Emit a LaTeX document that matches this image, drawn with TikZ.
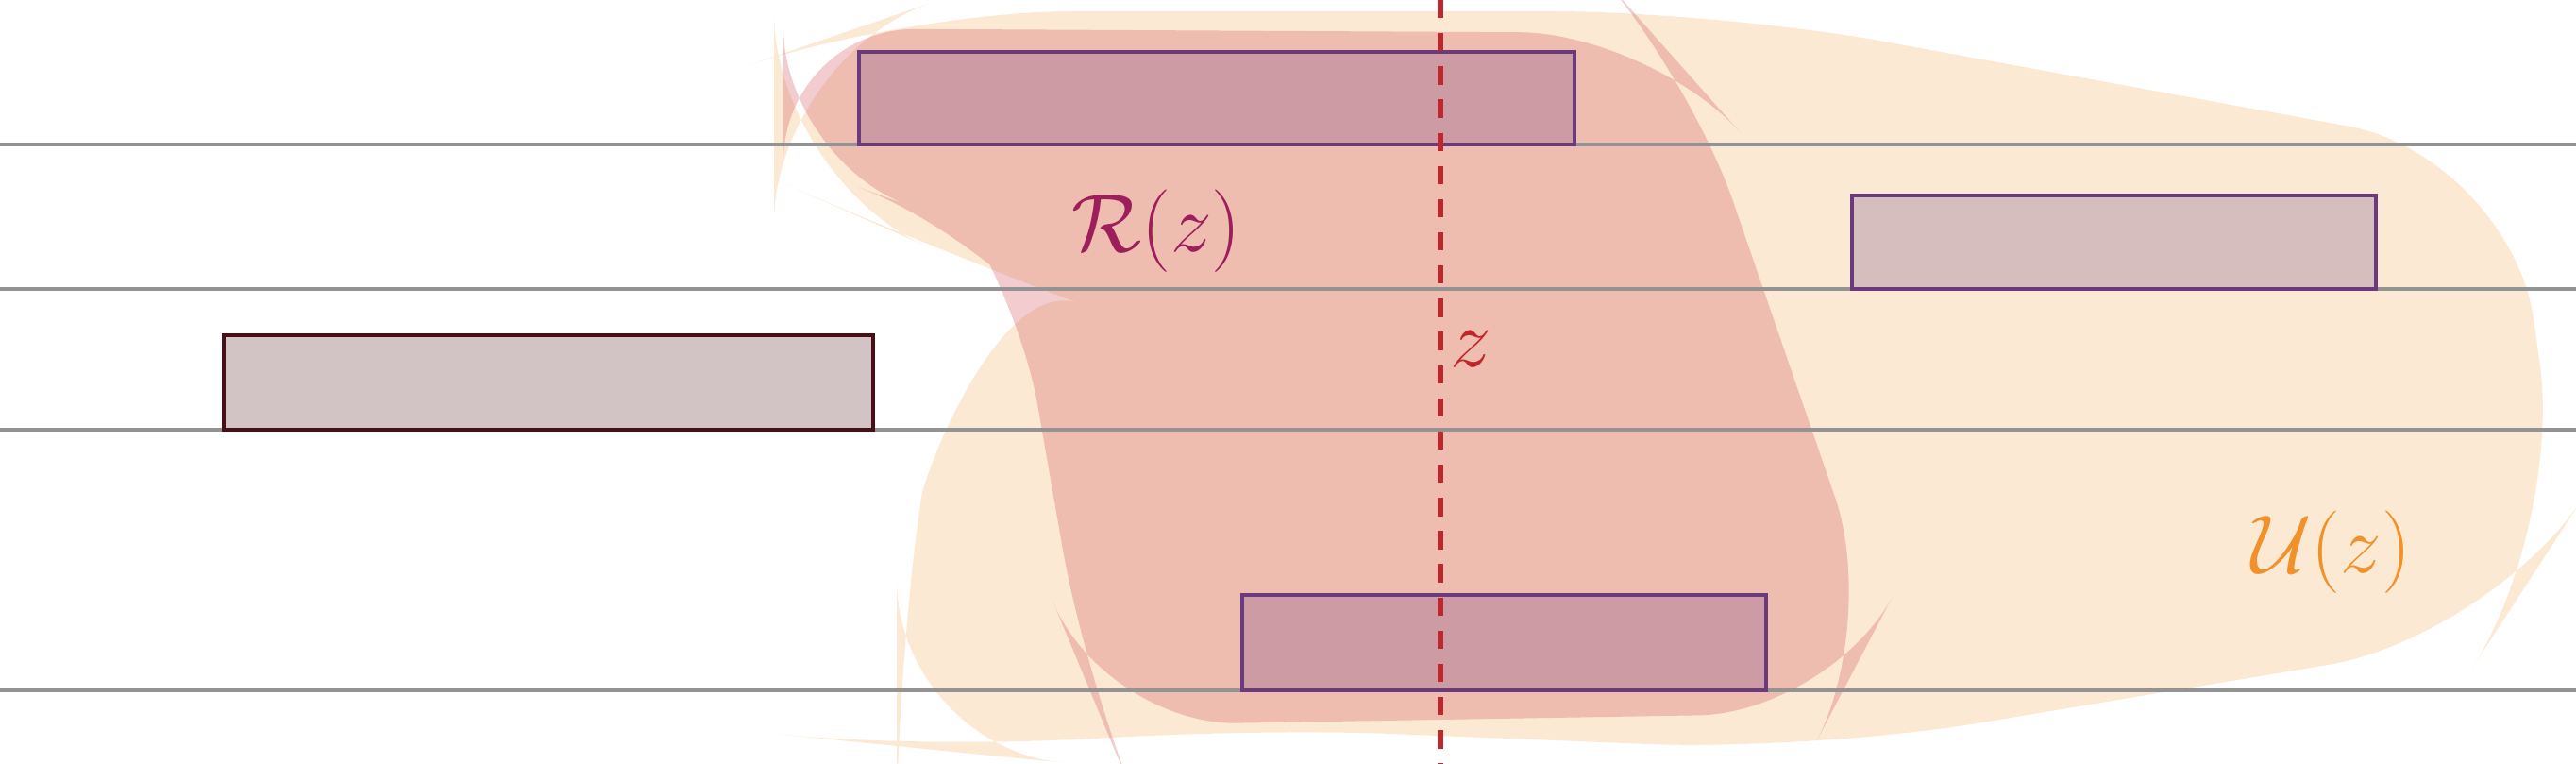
\documentclass[tikz,border=0pt]{standalone}
\usepackage{amsmath}
\definecolor{blobU}{HTML}{FBE9D4}
\definecolor{blobR}{HTML}{D4555F}
\definecolor{boxline}{HTML}{6B3A7D}
\definecolor{boxdark}{HTML}{4A0E14}
\definecolor{labR}{HTML}{9C1E5A}
\definecolor{labU}{HTML}{F0912A}
\definecolor{zred}{HTML}{C0272D}
\tikzset{
  level/.style={draw=gray!85, line width=0.9pt},
  bar/.style={draw=boxline, line width=1pt, fill=boxline, fill opacity=0.25},
}
\begin{document}
\begin{tikzpicture}[yscale=-1]
        \useasboundingbox (0,0) rectangle (27.29,8.09);
        % --- Region U(z) ---
        \fill[blobU, rounded corners=50pt]
            (9.6,0.12) -- (18.2,0.12) -- (26.6,1.65) -- (27.15,5.6) -- (26.4,6.75)
            -- (19.2,7.95) -- (13.0,7.7) -- (10.0,7.95) -- (9.5,7.9) -- (9.5,7.0)
            .. controls (9.8,5.0) and (10.6,2.9) .. (9.8,2.6) -- (8.2,1.9) -- (8.2,0.6) -- cycle;
        % --- Region R(z) ---
        \fill[blobR, fill opacity=0.3, rounded corners=40pt]
            (8.3,0.3) -- (17.5,0.35) -- (17.9,0.8) -- (19.9,6.6) -- (19.4,7.55)
            -- (11.7,7.68) -- (11.5,7.2) -- (10.75,2.9) -- (10.4,2.45) -- (8.3,1.7) -- cycle;
        % --- Lineas horizontales ---
        \foreach \y in {1.53,3.06,4.55,7.31}
            \draw[level] (0,\y) -- (27.29,\y);
        % --- Barras ---
        \draw[bar] (9.10,0.55) rectangle (16.68,1.53);
        \draw[bar] (19.62,2.07) rectangle (25.17,3.06);
        \draw[bar, draw=boxdark, fill=boxdark, fill opacity=0.25] (2.37,3.55) rectangle (9.25,4.55);
        \draw[bar] (13.16,6.30) rectangle (18.71,7.31);
        % --- Corte z ---
        \draw[zred, line width=1.8pt, dash pattern=on 5.5pt off 4.5pt] (15.26,0) -- (15.26,8.09);
        % --- Etiquetas ---
        \node[text=labR, font=\fontsize{24}{28}\selectfont] (labelR) at (12.25,2.45) {$\mathcal{R}(z)$};
        \node[text=zred, font=\fontsize{24}{28}\selectfont] (labelz) at (15.58,3.7) {$z$};
        \node[text=labU, font=\fontsize{24}{28}\selectfont] (labelU) at (24.7,5.85) {$\mathcal{U}(z)$};
\end{tikzpicture}
\end{document}
